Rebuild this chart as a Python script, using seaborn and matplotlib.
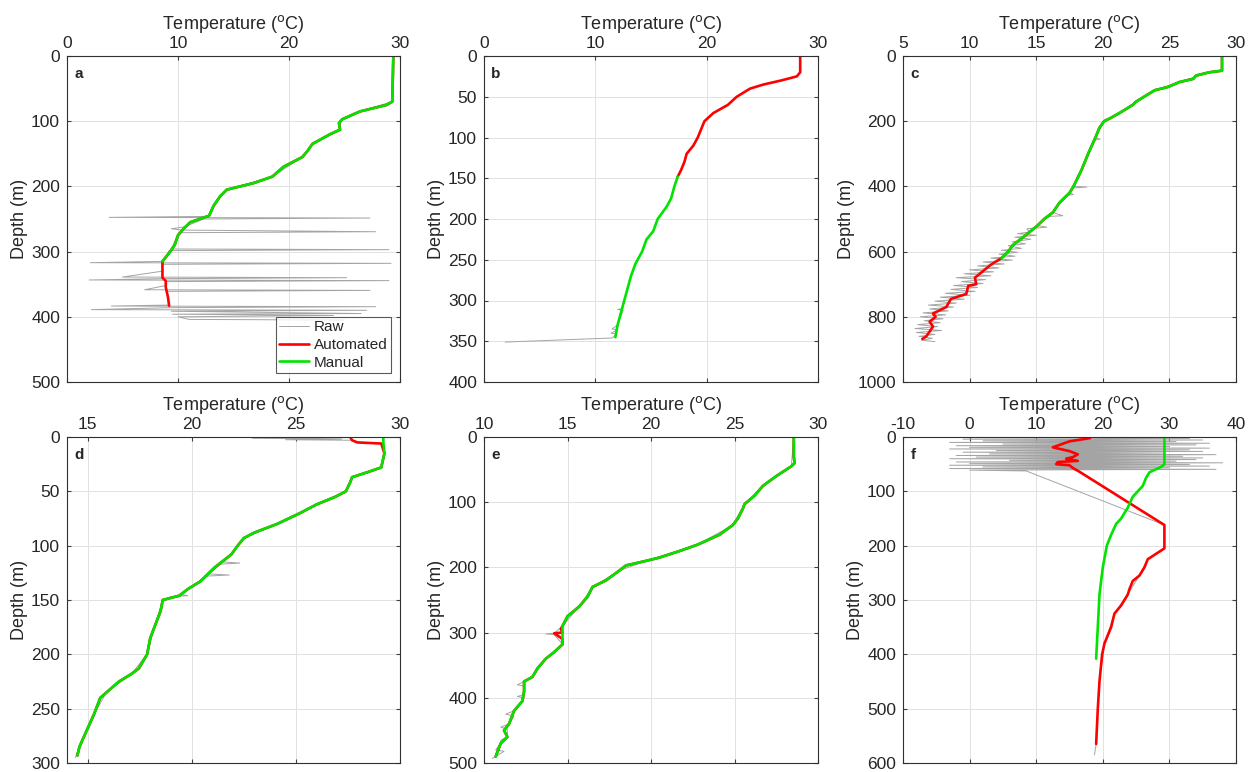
import numpy as np
import pandas as pd
import matplotlib
matplotlib.use("Agg")
import matplotlib.pyplot as plt
import seaborn as sns

# --- profile data: (depth m, temperature degC) ---

# a
a_raw = [(0, 29.4), (70, 29.3), (85, 26.4), (100, 24.6), (113, 24.6), (135, 22.1), (155, 21.2),
         (185, 18.5), (205, 14.4), (230, 13.2), (246, 12.8), (247.5, 3.8), (248.5, 27.3), (250, 12.3),
         (262, 10.6), (265, 9.4), (267, 10.4), (269.5, 27.8), (271, 10.1), (285, 9.7), (296, 9.4),
         (297, 29.0), (298.5, 9.2), (315, 8.7), (317, 2.1), (318, 29.2), (319.5, 8.6), (330, 8.6),
         (339, 5.0), (340, 25.2), (341.5, 8.6), (343.5, 2.0), (344.5, 29.0), (346, 8.9), (352, 8.9),
         (358.5, 7.0), (359.5, 27.3), (361, 9.0), (370, 9.1), (382, 9.2), (383.5, 4.0), (384.5, 27.8),
         (386, 9.3), (389, 2.2), (390, 27.0), (391.5, 9.4), (395, 26.5), (396, 9.5), (398, 24.0),
         (400, 10.0), (404, 11.0), (405, 25.0)]
a_manual = [(0, 29.4), (70, 29.3), (75, 28.8), (85, 26.4), (97, 24.8), (103, 24.5), (113, 24.6),
            (120, 23.7), (135, 22.1), (145, 21.7), (155, 21.2), (170, 19.5), (185, 18.5), (195, 16.8),
            (205, 14.4), (215, 13.8), (230, 13.2), (245, 12.8), (255, 11.1), (265, 10.5), (275, 10.0),
            (290, 9.7), (300, 9.3), (315, 8.6)]
a_auto_tail = [(330, 8.6), (340, 8.6), (345, 8.9), (355, 8.9), (370, 9.1), (383, 9.2)]

# b
b_auto = [(0, 28.4), (20, 28.4), (25, 28.1), (30, 26.7), (35, 25.1), (40, 23.9), (50, 22.7),
          (60, 21.9), (70, 20.6), (80, 19.8), (90, 19.5), (100, 19.2), (110, 18.8), (120, 18.2),
          (130, 18.0), (140, 17.7), (148, 17.4)]
b_manual = [(148, 17.4), (160, 17.1), (175, 16.8), (185, 16.4), (200, 15.6), (215, 15.2),
            (225, 14.6), (240, 14.2), (255, 13.6), (270, 13.2), (290, 12.8), (310, 12.4),
            (330, 12.0), (345, 11.8)]
b_raw_tail = [(310, 12.4), (311, 12.0), (312, 12.5), (330, 12.0), (335, 11.5), (336, 12.0),
              (340, 11.4), (341, 11.9), (345, 11.6), (346, 11.5), (351, 1.9)]

# c
c_manual = [(0, 28.95), (45, 28.95), (50, 28.0), (60, 27.0), (70, 26.8), (80, 25.75), (95, 24.9),
            (105, 23.9), (115, 23.5), (140, 22.5), (150, 22.25), (175, 21.25), (190, 20.6),
            (200, 20.1), (220, 19.75), (250, 19.45), (300, 18.9), (350, 18.4), (400, 17.8),
            (420, 17.5), (450, 16.75), (480, 16.25), (500, 15.6), (520, 15.1), (540, 14.5),
            (560, 13.9), (580, 13.25), (600, 12.9), (620, 12.4)]
c_auto_tail = [(640, 11.6), (660, 11.0), (680, 10.4), (700, 10.5), (705, 9.9), (730, 9.75),
               (745, 8.6), (770, 8.25), (790, 7.25), (800, 7.45), (815, 7.0), (830, 7.25),
               (845, 7.0), (860, 6.75), (868, 6.45)]
c_raw = [(0, 28.95), (45, 28.95), (50, 28.0), (80, 25.75), (105, 23.9), (140, 22.5), (175, 21.25),
         (200, 20.1), (250, 19.45), (255, 19.8), (258, 19.4), (300, 18.9), (350, 18.4), (400, 17.8),
         (402, 18.8), (405, 17.8), (420, 17.5), (425, 17.8), (428, 17.2), (450, 16.75), (480, 16.25),
         (490, 17.0), (492, 16.0), (500, 15.6), (520, 15.1), (525, 15.8), (530, 14.3), (540, 14.5),
         (545, 13.6), (550, 15.0), (556, 13.4), (562, 14.6), (570, 13.2), (576, 14.2), (582, 12.9),
         (590, 13.9), (596, 12.4), (602, 13.6), (608, 12.2), (614, 13.4), (620, 11.6), (626, 13.2),
         (632, 11.0), (638, 12.6), (644, 10.6), (650, 12.2), (656, 10.0), (662, 11.8), (668, 9.6),
         (674, 11.6), (680, 9.0), (686, 11.2), (692, 9.4), (698, 11.0), (704, 8.8), (710, 10.6),
         (716, 8.6), (722, 10.4), (728, 8.2), (734, 10.0), (740, 7.8), (746, 9.6), (752, 7.4),
         (758, 9.0), (764, 6.9), (770, 8.8), (776, 7.0), (782, 8.4), (788, 6.5), (794, 8.2),
         (800, 6.3), (806, 8.0), (812, 6.6), (818, 7.8), (824, 6.1), (830, 7.6), (836, 5.9),
         (842, 7.9), (848, 6.0), (854, 7.4), (860, 6.2), (866, 7.2), (872, 6.4), (876, 7.4)]

# d
d_manual = [(0, 29.2), (5, 29.2), (15, 29.25), (28, 29.1), (32, 28.5), (37, 27.7), (42, 27.6),
            (50, 27.4), (55, 26.9), (62, 26.0), (70, 25.2), (80, 24.1), (88, 23.0), (93, 22.5),
            (100, 22.2), (108, 21.9), (120, 21.1), (133, 20.4), (140, 19.8), (146, 19.4), (150, 18.6),
            (160, 18.5), (175, 18.2), (185, 18.0), (200, 17.85), (213, 17.45), (218, 17.1),
            (225, 16.5), (235, 15.9), (240, 15.6), (255, 15.3), (270, 14.95), (285, 14.6), (293, 14.5)]
d_auto_top = [(0, 27.6), (3, 27.7), (5, 27.95), (6, 29.1)]
d_raw = [(0.5, 27.6), (1.2, 22.9), (1.8, 27.2), (2.5, 24.5), (3, 27.7), (5, 27.95), (6, 29.1),
         (15, 29.25), (28, 29.1), (37, 27.7), (50, 27.4), (62, 26.0), (80, 24.1), (93, 22.5),
         (108, 21.9), (115, 21.5), (116, 22.3), (117, 21.4), (126, 20.8), (127, 21.8), (128, 20.7),
         (140, 19.8), (145, 19.5), (146, 19.8), (147, 19.0), (150, 18.6), (175, 18.2), (200, 17.85),
         (218, 17.1), (235, 15.9), (255, 15.3), (285, 14.6), (295, 14.4)]

# e
e_manual = [(0, 28.55), (30, 28.55), (40, 28.6), (45, 28.4), (60, 27.5), (75, 26.7), (90, 26.2),
            (103, 25.6), (110, 25.5), (125, 25.2), (135, 24.9), (150, 24.1), (165, 22.8), (175, 21.7),
            (185, 20.5), (190, 19.7), (197, 18.5), (205, 18.1), (220, 17.3), (230, 16.5), (245, 16.2),
            (260, 15.7), (275, 15.0), (290, 14.7), (300, 14.7), (310, 14.7), (318, 14.7), (330, 14.2),
            (340, 13.7), (355, 13.2), (368, 12.9), (375, 12.4), (390, 12.4), (405, 12.3), (420, 11.8),
            (440, 11.5), (450, 11.2), (460, 11.4), (470, 11.0), (490, 10.7)]
e_auto_spike = [(294.5, 14.6), (301, 14.2), (308, 14.6)]
e_raw = [(0, 28.55), (45, 28.4), (75, 26.7), (103, 25.6), (135, 24.9), (165, 22.8), (190, 19.7),
         (205, 18.1), (230, 16.5), (260, 15.7), (290, 14.7), (301, 14.2), (302, 13.7), (303, 14.2),
         (318, 14.7), (340, 13.7), (368, 12.9), (375, 12.4), (380, 12.0), (382, 12.4), (395, 12.4),
         (398, 12.0), (400, 12.4), (420, 11.8), (425, 11.3), (428, 11.8), (440, 11.5), (445, 11.0),
         (448, 11.4), (460, 11.4), (465, 11.0), (470, 11.0), (480, 10.7), (482, 11.2), (490, 10.7),
         (493, 10.5)]

# f
f_manual = [(0, 29.25), (50, 29.25), (55, 28.75), (65, 27.0), (75, 26.5), (90, 26.0), (100, 25.25),
            (110, 24.5), (130, 23.75), (150, 22.75), (160, 22.0), (180, 21.25), (200, 20.6),
            (240, 20.0), (290, 19.5), (350, 19.25), (408, 19.0)]
f_auto = [(2, 18.1), (8, 15.0), (19, 12.5), (26, 15.0), (32, 16.25), (37, 15.5), (40, 14.5),
          (44, 16.25), (46, 13.25), (50, 13.0), (52, 15.0), (57, 15.5), (64, 16.5), (162, 29.25),
          (205, 29.25), (215, 28.0), (225, 26.75), (240, 26.25), (255, 25.5), (265, 24.5),
          (280, 24.0), (290, 23.75), (310, 22.75), (325, 21.75), (350, 21.25), (380, 20.25),
          (400, 19.9), (450, 19.5), (500, 19.25), (565, 19.0)]
f_raw = [(1, 18.0), (2.5, 33), (4, -1), (5.5, 35), (7, 2), (8.5, 31), (10, -3), (11.5, 36), (13, 5),
         (14.5, 34), (16, -2), (17.5, 30), (19, 0), (20.5, 36), (22, -3), (23.5, 33), (25, 4),
         (26.5, 35), (28, -1), (29.5, 29), (31, 3), (32.5, 37), (34, -2), (35.5, 32), (37, 1),
         (38.5, 35), (40, -3), (41.5, 34), (43, 6), (44.5, 31), (46, -2), (47.5, 38), (49, 0),
         (50.5, 33), (52, -3), (53.5, 36), (55, 2), (56.5, 30), (58, -3), (59.5, 37), (61, 0),
         (62.5, 8.5), (162, 29.25), (205, 29.25), (225, 26.75), (255, 25.5), (290, 23.75),
         (325, 21.75), (380, 20.25), (450, 19.5), (500, 19.25), (565, 19.0), (585, 18.75)]

# --- plotting ---
RAW_C = '#a4a4a4'
AUTO_C = '#ff0000'
MAN_C = '#00e400'

sns.set_style("whitegrid")
plt.rcParams['font.family'] = ['Liberation Sans', 'DejaVu Sans']
plt.rcParams['axes.unicode_minus'] = False

fig = plt.figure(figsize=(12.56, 7.72), dpi=100)
W, H = 1256, 772


def prof(pairs):
    return pd.DataFrame(pairs, columns=['depth', 'temp'])


def panel(rect, letter, raw, auto, man, xlim, xticks, ymax, yticks, legend=False):
    l, t, r, b = rect
    ax = fig.add_axes([l / W, 1 - b / H, (r - l) / W, (b - t) / H])
    sns.lineplot(data=prof(raw), x='temp', y='depth', sort=False, estimator=None,
                 color=RAW_C, linewidth=0.7, ax=ax, label='Raw')
    sns.lineplot(data=prof(auto), x='temp', y='depth', sort=False, estimator=None,
                 color=AUTO_C, linewidth=1.9, ax=ax, label='Automated')
    sns.lineplot(data=prof(man), x='temp', y='depth', sort=False, estimator=None,
                 color=MAN_C, linewidth=1.9, ax=ax, label='Manual')
    ax.set_xlim(*xlim)
    ax.set_ylim(ymax, 0)
    ax.set_xticks(xticks)
    ax.set_yticks(yticks)
    ax.xaxis.tick_top()
    ax.xaxis.set_label_position('top')
    ax.tick_params(direction='in', length=3, top=True, bottom=True, left=True, right=True,
                   labeltop=True, labelbottom=False, labelsize=12.5, color='#404040')
    ax.tick_params(axis='x', pad=3.5)
    ax.tick_params(axis='y', pad=5)
    ax.set_xlabel(r'Temperature ($^{\mathrm{o}}$C)', fontsize=13, labelpad=5)
    ax.set_ylabel('Depth (m)', fontsize=13, labelpad=2)
    ax.grid(True, color='#e2e2e2', linewidth=0.7)
    for s in ax.spines.values():
        s.set_color('#303030')
        s.set_linewidth(0.8)
    ax.text(0.022, 0.965, letter, transform=ax.transAxes, fontsize=11,
            fontweight='bold', va='top', ha='left')
    if legend:
        lg = ax.legend(loc='lower right', fontsize=11, frameon=True, fancybox=False,
                       borderpad=0.2, labelspacing=0.25, handlelength=2.0, handletextpad=0.3,
                       borderaxespad=0.6)
        lg.get_frame().set_edgecolor('#303030')
        lg.get_frame().set_linewidth(0.8)
    else:
        ax.get_legend().remove()
    return ax


panel((67, 56, 400, 382), 'a', a_raw, a_manual + a_auto_tail, a_manual,
      (0, 30), [0, 10, 20, 30], 500, [0, 100, 200, 300, 400, 500], legend=True)
panel((484, 56, 818, 382), 'b', b_manual[:12] + b_raw_tail, b_auto, b_manual,
      (0, 30), [0, 10, 20, 30], 400, [0, 50, 100, 150, 200, 250, 300, 350, 400])
panel((903, 56, 1236, 382), 'c', c_raw, c_manual + c_auto_tail, c_manual,
      (5, 30), [5, 10, 15, 20, 25, 30], 1000, [0, 200, 400, 600, 800, 1000])
panel((67, 437, 400, 763), 'd', d_raw, d_auto_top + d_manual[2:], d_manual,
      (14, 30), [15, 20, 25, 30], 300, [0, 50, 100, 150, 200, 250, 300])
panel((484, 437, 818, 763), 'e', e_raw, sorted(e_manual + e_auto_spike), e_manual,
      (10, 30), [10, 15, 20, 25, 30], 500, [0, 100, 200, 300, 400, 500])
panel((903, 437, 1236, 763), 'f', f_raw, f_auto, f_manual,
      (-10, 40), [-10, 0, 10, 20, 30, 40], 600, [0, 100, 200, 300, 400, 500, 600])

fig.savefig('out.png', dpi=100)
